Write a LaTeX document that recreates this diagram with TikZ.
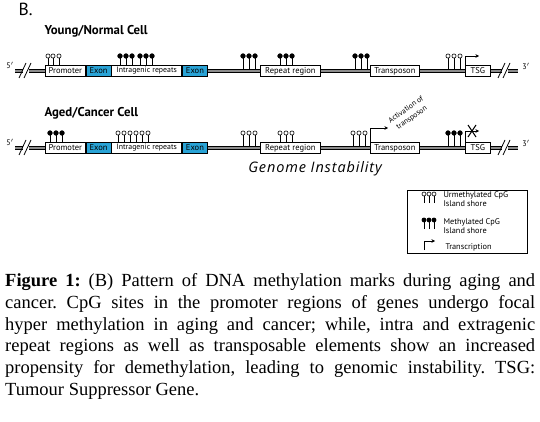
\documentclass[tikz,border=0pt]{standalone}
\usepackage{fontspec}
\setmainfont{Liberation Serif}
\newfontfamily\diagfont{PT Sans}
\newfontfamily\genfont[LetterSpace=6.0]{Open Sans}
\usetikzlibrary{arrows.meta, positioning}
\definecolor{exonblue}{RGB}{41,163,214}
\definecolor{dnagray}{RGB}{140,140,140}

\begin{document}
\begin{tikzpicture}[
  x=1pt, y=-1pt,
  node distance=0pt,
  region/.style={rectangle, draw=black, line width=0.7, fill=white,
    minimum height=11, inner sep=0pt, font=\diagfont\fontsize{8.5}{8.5}\selectfont},
  exon/.style={region, fill=exonblue},
  dna/.style={draw=black, line width=0.8, double=dnagray, double distance=2},
  slash/.style={line width=0.8},
  stick/.style={line width=0.6},
  openhead/.style={line width=0.6, fill=white},
  fullhead/.style={line width=0.6, fill=black},
  transc/.style={-{Stealth[length=3.5, width=3.5]}, line width=0.7},
  rowtitle/.style={anchor=base west, font=\diagfont\bfseries\fontsize{12.8}{13}\selectfont},
  endlabel/.style={font=\diagfont\fontsize{8}{8}\selectfont},
  legtext/.style={anchor=base west, align=left, font=\diagfont\fontsize{8.3}{9}\selectfont}
]
  \useasboundingbox (0,0) rectangle (540,422);

  \node[anchor=base west, font=\diagfont\fontsize{17.5}{17.5}\selectfont] (panel) at (15,16) {B.};
  \node[rowtitle] (young) at (41,35) {Young/Normal Cell};
  \node[rowtitle] (aged) at (41,117) {Aged/Cancer Cell};

  % young / normal cell
  \node[region, minimum width=40, anchor=west] (promY) at (45,71) {Promoter};
  \node[exon, minimum width=25, right=of promY] (exonY1) {Exon};
  \node[region, minimum width=70, right=of exonY1, font=\diagfont\fontsize{7.8}{8}\selectfont] (intraY) {Intragenic repeats};
  \node[exon, minimum width=25, right=of intraY] (exonY2) {Exon};
  \node[region, minimum width=60, anchor=west] (repY) at (260,71) {Repeat region};
  \node[region, minimum width=49, anchor=west] (transY) at (370,71) {Transposon};
  \node[region, minimum width=25, anchor=west] (tsgY) at (465,71) {TSG};
  \node[endlabel] (fiveY) at (10,65) {5$'$};
  \node[endlabel] (threeY) at (526,66) {3$'$};

  \coordinate (startY) at (15,71);
  \coordinate (brkYa) at (23,71);
  \coordinate (brkYb) at (29,71);
  \coordinate (brkYc) at (502,71);
  \coordinate (brkYd) at (508,71);
  \coordinate (endY) at (518,71);
  \draw[dna] (startY) -- (brkYa);
  \draw[dna] (brkYb) -- (promY.west);
  \draw[dna] (exonY2.east) -- (repY.west);
  \draw[dna] (repY.east) -- (transY.west);
  \draw[dna] (transY.east) -- (tsgY.west);
  \draw[dna] (tsgY.east) -- (brkYc);
  \draw[dna] (brkYd) -- (endY);
  \draw[slash] (19,78) -- (26,63) (24,78) -- (31,63);
  \draw[slash] (498,78) -- (505,63) (503,78) -- (510,63);

  \foreach \x in {48,53,59} {
    \draw[stick] (\x,66) -- (\x,56); \draw[openhead] (\x,56) circle (2.1);}
  \foreach \x in {120,126,132,140,146,152,280,286,292} {
    \draw[stick] (\x,66) -- (\x,56); \draw[fullhead] (\x,56) circle (2.3);}
  \foreach \x in {243,249,255,355,361,367} {
    \draw[stick] (\x,69) -- (\x,56); \draw[fullhead] (\x,56) circle (2.3);}
  \foreach \x in {448,454,460} {
    \draw[stick] (\x,69) -- (\x,56); \draw[openhead] (\x,56) circle (2.1);}

  \coordinate (tipY) at (479,56);
  \draw[transc] (tsgY.north west) |- (tipY);

  % aged / cancer cell
  \node[region, minimum width=40, anchor=west] (promA) at (45,148) {Promoter};
  \node[exon, minimum width=25, right=of promA] (exonA1) {Exon};
  \node[region, minimum width=70, right=of exonA1, font=\diagfont\fontsize{7.8}{8}\selectfont] (intraA) {Intragenic repeats};
  \node[exon, minimum width=25, right=of intraA] (exonA2) {Exon};
  \node[region, minimum width=60, anchor=west] (repA) at (260,148) {Repeat region};
  \node[region, minimum width=49, anchor=west] (transA) at (370,148) {Transposon};
  \node[region, minimum width=25, anchor=west] (tsgA) at (465,148) {TSG};
  \node[endlabel] (fiveA) at (10,142) {5$'$};
  \node[endlabel] (threeA) at (526,143) {3$'$};

  \coordinate (startA) at (15,148);
  \coordinate (brkAa) at (23,148);
  \coordinate (brkAb) at (29,148);
  \coordinate (brkAc) at (502,148);
  \coordinate (brkAd) at (508,148);
  \coordinate (endA) at (518,148);
  \draw[dna] (startA) -- (brkAa);
  \draw[dna] (brkAb) -- (promA.west);
  \draw[dna] (exonA2.east) -- (repA.west);
  \draw[dna] (repA.east) -- (transA.west);
  \draw[dna] (transA.east) -- (tsgA.west);
  \draw[dna] (tsgA.east) -- (brkAc);
  \draw[dna] (brkAd) -- (endA);
  \draw[slash] (19,155) -- (26,140) (24,155) -- (31,140);
  \draw[slash] (498,155) -- (505,140) (503,155) -- (510,140);

  \foreach \x in {50,56,62} {
    \draw[stick] (\x,143) -- (\x,133); \draw[fullhead] (\x,133) circle (2.3);}
  \foreach \x in {118,124,130,136,142,148,280,286,292} {
    \draw[stick] (\x,143) -- (\x,133); \draw[openhead] (\x,133) circle (2.1);}
  \foreach \x in {243,249,255,353,359,365} {
    \draw[stick] (\x,146) -- (\x,133); \draw[openhead] (\x,133) circle (2.1);}
  \foreach \x in {448,454,460} {
    \draw[stick] (\x,146) -- (\x,133); \draw[fullhead] (\x,133) circle (2.3);}

  \coordinate (tipT) at (388,128);
  \draw[transc] (transA.north west) |- (tipT);
  \node[rotate=35, align=center, inner sep=1pt,
    font=\diagfont\fontsize{7.5}{10}\selectfont]
    (activ) at (409,114) {Activation of\\transposon};
  \coordinate (tipA) at (479,131);
  \draw[transc] (tsgA.north west) |- (tipA);
  \draw[line width=1] (468,125) -- (476,137) (476,125) -- (468,137);

  \node[font=\genfont\itshape\fontsize{14.5}{15}\selectfont] (genome) at (315,169) {Genome Instability};

  % legend
  \node[draw=black, line width=0.8, minimum width=120, minimum height=63,
    inner sep=0pt] (legend) at (467,221.5) {};
  \foreach \x in {424,429,434} {
    \draw[stick] (\x,203) -- (\x,194); \draw[openhead] (\x,194) circle (2);}
  \node[legtext] (legopen) at (440,206) {Urmethylated CpG\\Island shore};
  \foreach \x in {424,429,434} {
    \draw[stick] (\x,229) -- (\x,220); \draw[fullhead] (\x,220) circle (2.1);}
  \node[legtext] (legfull) at (440,233) {Methylated CpG\\Island shore};
  \coordinate (legbase) at (424,250);
  \coordinate (legtip) at (435,241);
  \draw[transc] (legbase) |- (legtip);
  \node[legtext] (legtrans) at (442,249) {Transcription};

  % caption
  \node[anchor=north west, text width=530, align=justify, inner sep=0pt,
    font=\fontsize{18.5}{21.9}\selectfont\frenchspacing] (caption) at (5,273)
    {\textbf{Figure 1:} (B) Pattern of DNA methylation marks during aging and\linebreak
     cancer. CpG sites in the promoter regions of genes undergo focal\linebreak
     hyper methylation in aging and cancer; while, intra and extragenic\linebreak
     repeat regions as well as transposable elements show an increased\linebreak
     propensity for demethylation, leading to genomic instability. TSG:\linebreak
     Tumour Suppressor Gene.};
\end{tikzpicture}
\end{document}
